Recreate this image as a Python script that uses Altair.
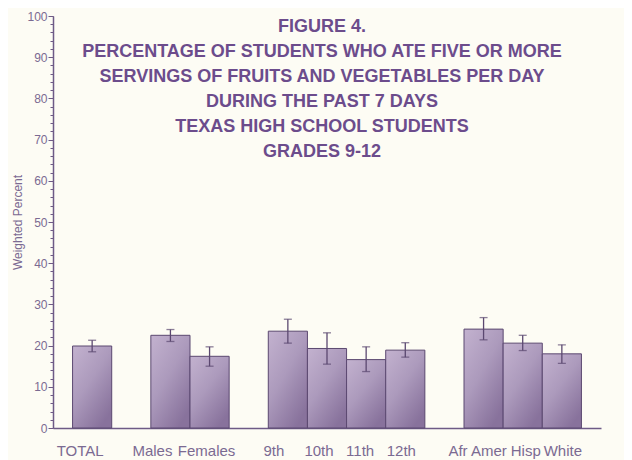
import altair as alt
import pandas as pd

# ---- data ----
CATEGORIES = ["TOTAL", "Males", "Females", "9th", "10th", "11th", "12th",
              "Afr Amer", "Hisp", "White"]
PERCENT = [19.9, 22.5, 17.4, 23.5, 19.3, 16.6, 18.9, 24.0, 20.6, 18.0]
CI_LOW = [18.5, 21.0, 15.0, 20.6, 15.5, 13.7, 17.2, 21.4, 18.8, 15.7]
CI_HIGH = [21.3, 23.9, 19.7, 26.4, 23.1, 19.7, 20.7, 26.8, 22.5, 20.2]
# order on the axis, with blank spacer slots between groups
X_DOMAIN = ["TOTAL", "_1", "Males", "Females", "_2", "9th", "10th", "11th",
            "12th", "_3", "Afr Amer", "Hisp", "White"]
Y_TICKS = list(range(0, 101, 10))
Y_MINOR = list(range(0, 101, 2))
TITLE_LINES = [
    "FIGURE 4.",
    "PERCENTAGE OF STUDENTS WHO ATE FIVE OR MORE",
    "SERVINGS OF FRUITS AND VEGETABLES PER DAY",
    "DURING THE PAST 7 DAYS",
    "TEXAS HIGH  SCHOOL STUDENTS",
    "GRADES 9-12",
]

df = pd.DataFrame({"cat": CATEGORIES, "val": PERCENT, "lo": CI_LOW, "hi": CI_HIGH})

# ---- style ----
FONT = "Liberation Sans"
PURPLE_TEXT = "#6c4c8c"
AXIS_TEXT = "#7b6a92"
AXIS_LINE = "#6e5a86"
BAR_EDGE = "#5b4870"
label_shift = ("{'TOTAL': -12, 'Males': -18, 'Females': -3, '9th': -14, '10th': -8,"
               " '11th': -6, '12th': -4, 'Afr Amer': -6, 'Hisp': 3, 'White': 1}")

x_enc = alt.X(
    "cat:N",
    sort=X_DOMAIN,
    scale=alt.Scale(domain=X_DOMAIN, paddingInner=0, paddingOuter=0.5),
    axis=alt.Axis(
        title=None,
        labelExpr="indexof(datum.label, '_') == 0 ? '' : datum.label",
        labelAngle=0,
        labelFont=FONT,
        labelFontSize=15,
        labelColor=AXIS_TEXT,
        labelPadding=15,
        labelOverlap=False,
        labelOffset={"expr": label_shift + "[datum.label] || 0"},
        ticks=False,
        domainColor=AXIS_LINE,
        domainWidth=1.5,
        grid=False,
    ),
)

y_scale = alt.Scale(domain=[0, 100], nice=False)

base = alt.Chart(df)

bars = base.mark_bar(
    stroke=BAR_EDGE,
    strokeWidth=1,
    color=alt.Gradient(
        gradient="linear",
        x1=0, y1=0, x2=0.7, y2=1,
        stops=[
            alt.GradientStop(offset=0, color="#c3b2cf"),
            alt.GradientStop(offset=0.5, color="#ac9abc"),
            alt.GradientStop(offset=1, color="#88729c"),
        ],
    ),
).encode(
    x=x_enc,
    y=alt.Y(
        "val:Q",
        scale=y_scale,
        axis=alt.Axis(
            values=Y_TICKS,
            orient="left",
            tickSize=5,
            tickColor=AXIS_LINE,
            domainColor=AXIS_LINE,
            domainWidth=1.5,
            labelFont=FONT,
            labelFontSize=12,
            labelColor=AXIS_TEXT,
            labelPadding=1,
            grid=False,
            title="Weighted Percent",
            titleFont=FONT,
            titleFontSize=12,
            titleFontWeight="normal",
            titleColor=AXIS_TEXT,
            titleX=-36,
            titleY=206,
            titleBaseline="middle",
        ),
    ),
)

minor = base.mark_point(opacity=0).encode(
    x=x_enc,
    y=alt.Y(
        "val:Q",
        scale=y_scale,
        axis=alt.Axis(
            orient="left",
            values=Y_MINOR,
            labels=False,
            tickSize=3,
            tickColor=AXIS_LINE,
            domain=False,
            grid=False,
            title=None,
        ),
    ),
)

err = base.mark_rule(color=BAR_EDGE, strokeWidth=1.3).encode(
    x=x_enc,
    y=alt.Y("lo:Q", scale=y_scale, axis=None),
    y2="hi:Q",
)
cap_lo = base.mark_tick(color=BAR_EDGE, size=8, thickness=1.3).encode(
    x=x_enc, y=alt.Y("lo:Q", scale=y_scale, axis=None)
)
cap_hi = base.mark_tick(color=BAR_EDGE, size=8, thickness=1.3).encode(
    x=x_enc, y=alt.Y("hi:Q", scale=y_scale, axis=None)
)

title = alt.Chart(pd.DataFrame({"k": [0]})).mark_text(
    text=TITLE_LINES,
    font=FONT,
    fontSize=18,
    fontWeight="bold",
    color=PURPLE_TEXT,
    align="center",
    baseline="top",
    lineHeight=25,
).encode(x=alt.value(269), y=alt.value(2))

chart = (
    alt.layer(bars, err, cap_lo, cap_hi, minor, title)
    .resolve_axis(y="independent")
    .properties(
        width=548,
        height=412,
        autosize="none",
        padding={"left": 45, "top": 8, "right": 23, "bottom": 32},
        background="#fdfcf4",
    )
    .configure_view(stroke=None)
)

chart.save("out.html", embed_options={"renderer": "svg", "actions": False})
